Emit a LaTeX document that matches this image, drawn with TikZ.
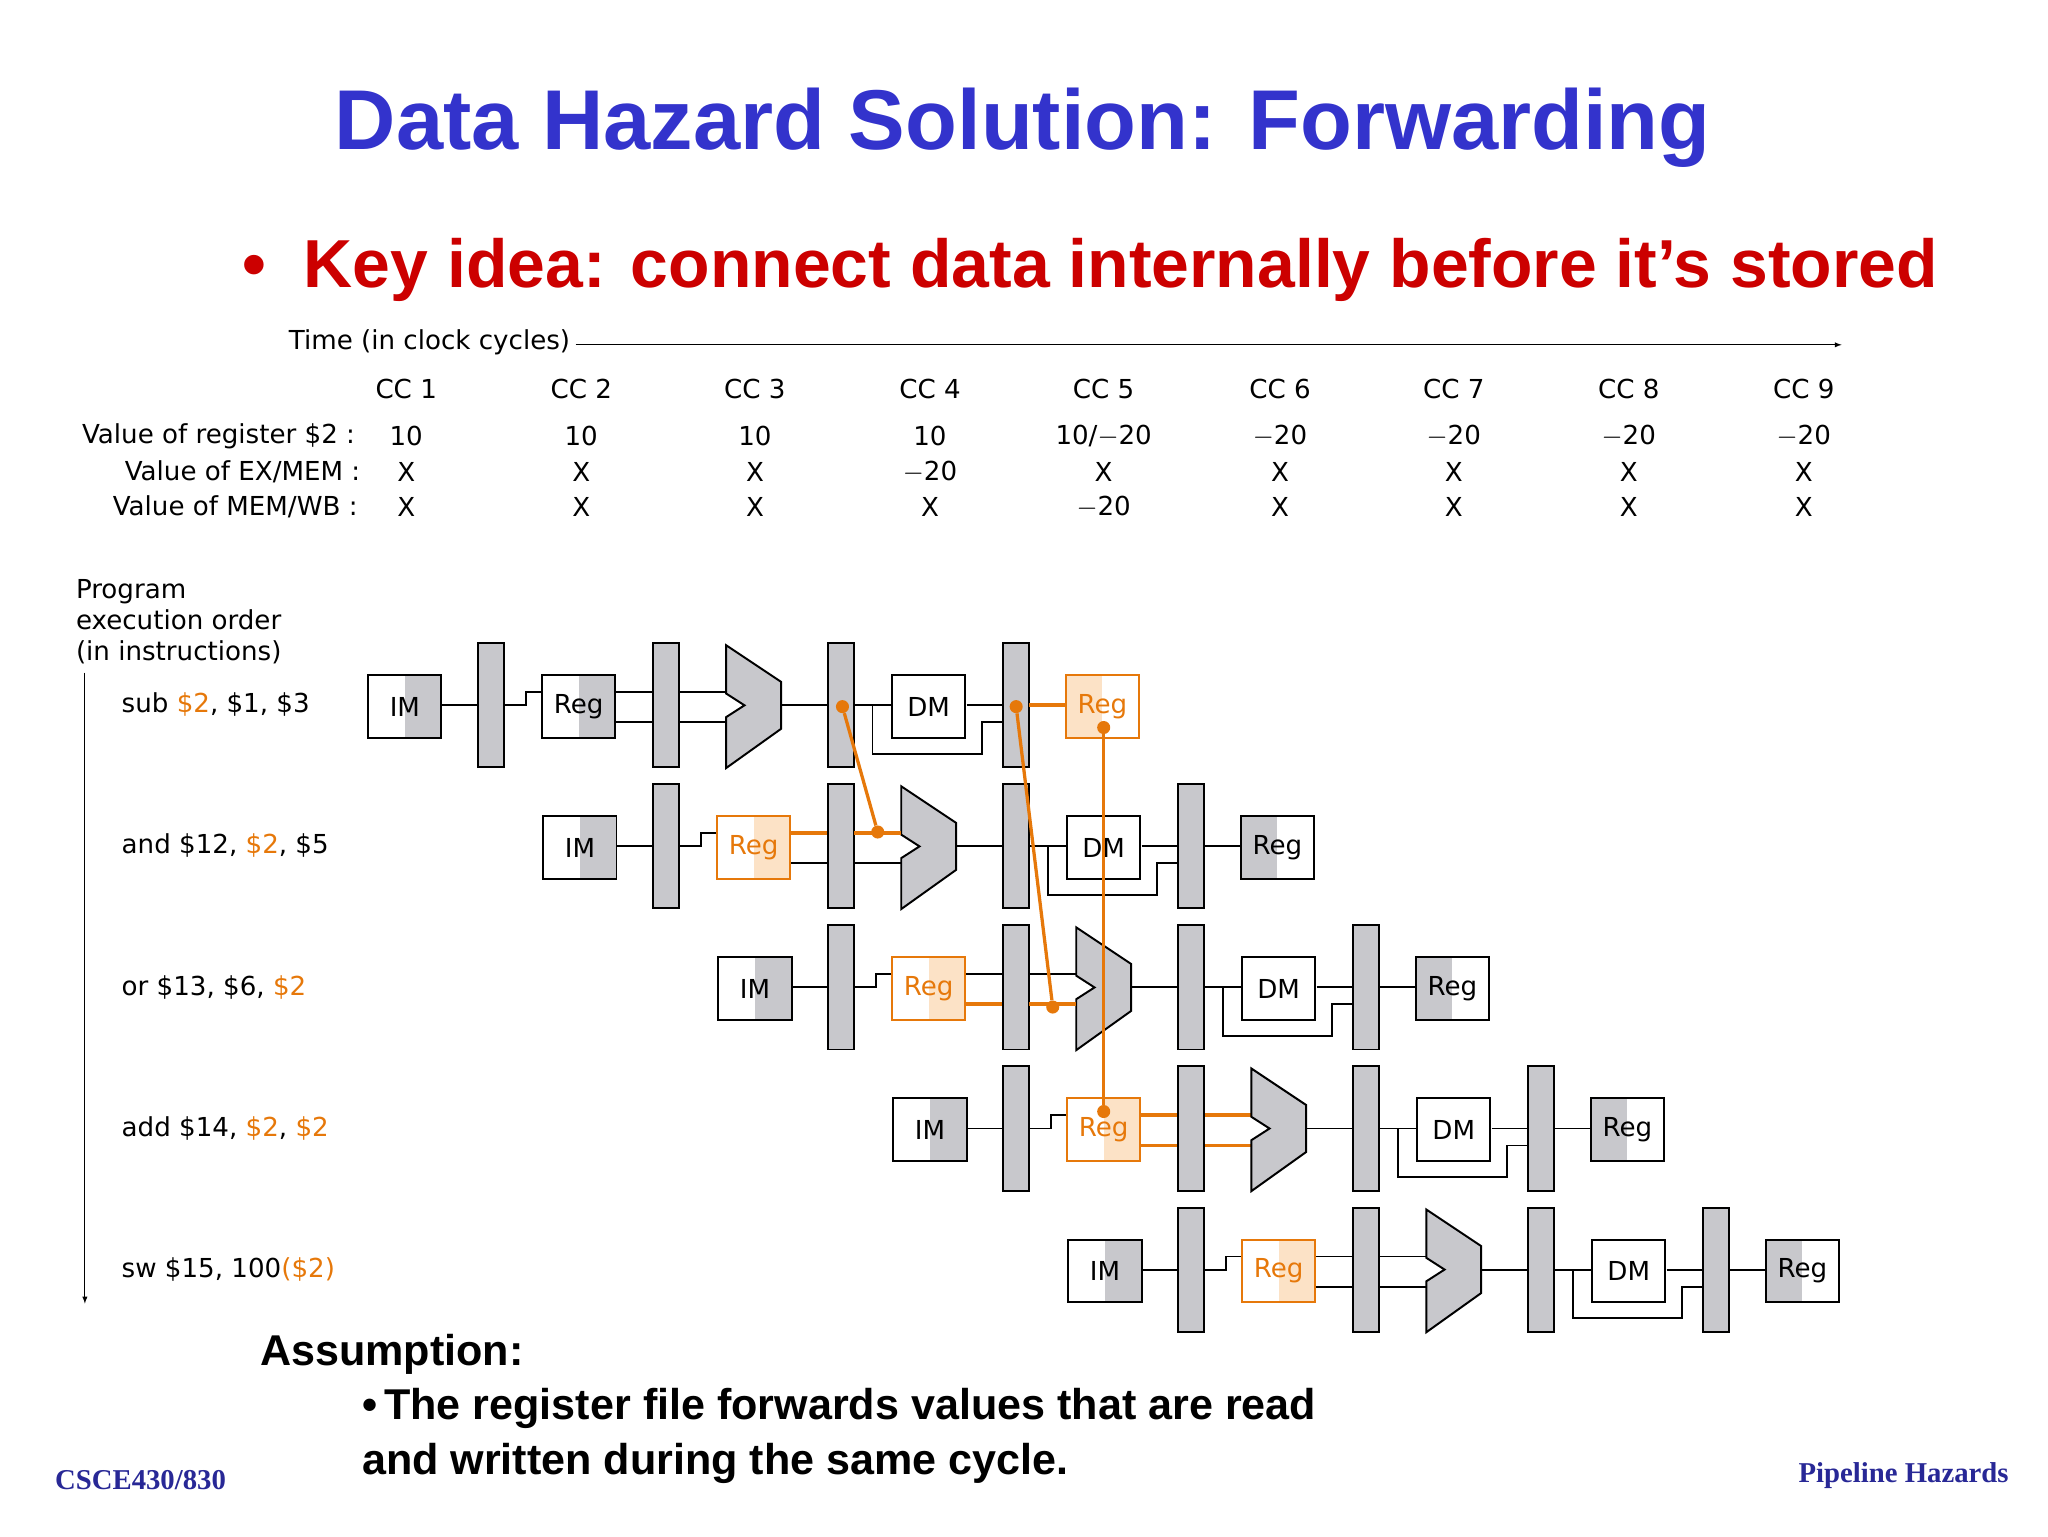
\documentclass[tikz,border=0pt]{standalone}
\usepackage{fontspec}
\setmainfont{Liberation Sans}
\newfontfamily\serifb{Liberation Serif}
\newfontfamily\djvfont{DejaVu Sans}
\definecolor{ttl}{RGB}{51,51,204}
\definecolor{kred}{RGB}{204,0,0}
\definecolor{g}{RGB}{200,200,204}
\definecolor{org}{RGB}{230,120,10}
\definecolor{lorg}{RGB}{252,226,198}
\definecolor{foot}{RGB}{40,40,150}
\begin{document}
\begin{tikzpicture}[x=1pt,y=-1pt,
  ln/.style={line width=1.5pt},
  ol/.style={org,line width=3pt},
  bx/.style={draw,line width=1.5pt,minimum width=56pt,minimum height=48pt,inner sep=0pt,font=\djvfont\fontsize{20}{20}\selectfont},
  rbox/.style={bx,path picture={\fill[g] (path picture bounding box.north) rectangle (path picture bounding box.south east);}},
  lbox/.style={bx,path picture={\fill[g] (path picture bounding box.north) rectangle (path picture bounding box.south west);}},
  orr/.style={bx,draw=org,text=org,path picture={\fill[lorg] (path picture bounding box.north) rectangle (path picture bounding box.south east);}},
  owb/.style={bx,draw=org,text=org,path picture={\fill[lorg] (path picture bounding box.north) rectangle (path picture bounding box.south west);}},
  bar/.style={draw,fill=g,line width=1.5pt,minimum width=20pt,minimum height=95pt,inner sep=0pt},
  dot/.style={circle,fill=org,inner sep=0pt,minimum size=10pt},
  txt/.style={font=\djvfont\fontsize{20}{20}\selectfont,inner sep=0pt}]
\useasboundingbox (0,0) rectangle (1568,1176);
% titles
\node[text=ttl,font=\fontsize{65}{65}\selectfont\bfseries] (title) at (783,98) {Data Hazard Solution: Forwarding};
\node[text=kred,font=\fontsize{52}{52}\selectfont\bfseries,anchor=west] (key) at (182,207) {\textbullet\ \ Key idea: connect data internally before it\char"0027 s stored};
% time axis
\node[txt,anchor=west] (time) at (221,262) {Time (in clock cycles)};
\coordinate (tend) at (1410,264);
\draw[line width=0.8pt,-latex] (time.east) ++(4,2) -- (tend);
\foreach \k/\a/\b/\c/\d in {1/10/X/X/311,2/10/X/X/445,3/10/X/X/578,4/10/{$-$20}/X/712,5/{10/$-$20}/X/{$-$20}/845,6/{$-$20}/X/X/980,7/{$-$20}/X/X/1113,8/{$-$20}/X/X/1247,9/{$-$20}/X/X/1381}{
  \node[txt] (cc\k) at (\d,298) {CC \k};
  \node[txt] (v\k) at (\d,334) {\a};
  \node[txt] (e\k) at (\d,361) {\b};
  \node[txt] (m\k) at (\d,388) {\c};
}
\node[txt,anchor=east] (l1) at (272,334) {Value of register \$2 :};
\node[txt,anchor=east] (l2) at (276,361) {Value of EX/MEM :};
\node[txt,anchor=east] (l3) at (274,388) {Value of MEM/WB :};
\node[txt,anchor=west,align=left] (peo) at (58,476) {Program\\[4pt]execution order\\[4pt](in instructions)};
\coordinate (pa) at (65,515); \coordinate (pb) at (65,998);
\draw[line width=0.8pt,-latex] (pa) -- (pb);
\node[txt,anchor=west] (i0) at (93,539) {sub \textcolor{org}{\$2}, \$1, \$3};
\node[txt,anchor=west] (i1) at (93,647) {and \$12, \textcolor{org}{\$2}, \$5};
\node[txt,anchor=west] (i2) at (93,756) {or \$13, \$6, \textcolor{org}{\$2}};
\node[txt,anchor=west] (i3) at (93,864) {add \$14, \textcolor{org}{\$2}, \textcolor{org}{\$2}};
\node[txt,anchor=west] (i4) at (93,972) {sw \$15, 100\textcolor{org}{(\$2)}};
% pipeline rows
\foreach \i/\rs/\ws/\tc/\bc in {0/rbox/owb/ln/ln,1/orr/lbox/ol/ln,2/orr/lbox/ln/ol,3/orr/lbox/ol/ol,4/orr/lbox/ln/ln}{
 \begin{scope}[shift={(134*\i,108*\i)}]
  \draw[ln] (338,540) -- (366,540);
  \draw[ln] (386,540) -- (403,540) -- (403,530) -- (415,530);
  \draw[\tc] (471,530) -- (556,530);
  \draw[\bc] (471,553) -- (556,553);
  \draw[ln] (598,540) -- (634,540);
  \draw[ln] (654,540) -- (682,540);
  \draw[ln] (668,540) -- (668,577) -- (752,577) -- (752,553) -- (768,553);
  \draw[ln] (740,540) -- (768,540);
  \draw[ln] (788,540) -- (816,540);
  \node[rbox] (im\i) at (310,541) {IM};
  \node[bar] (b1\i) at (376,540) {};
  \node[\rs] (rg\i) at (443,541) {Reg};
  \node[bar] (b2\i) at (510,540) {};
  \draw[ln,fill=g] (556,494) -- (598,522) -- (598,558) -- (556,588) -- (556,549) -- (570,540) -- (556,531) -- cycle;
  \node[bar] (b3\i) at (644,540) {};
  \node[bx] (dm\i) at (711,541) {DM};
  \node[bar] (b4\i) at (778,540) {};
  \node[\ws] (wb\i) at (844,541) {Reg};
 \end{scope}
}
% orange forwarding paths
\draw[ol] (788,540) -- (816,540);
\draw[ol] (654,638) -- (690,638);
\draw[ol] (788,769) -- (824,769);
\node[dot] (d1) at (645,541) {};
\node[dot] (d2) at (672,637) {};
\node[dot] (d3) at (778,541) {};
\node[dot] (d4) at (806,771) {};
\node[dot] (d5) at (845,557) {};
\node[dot] (d6) at (845,851) {};
\draw[org,line width=2.5pt] (d1) -- (d2);
\draw[org,line width=2.5pt] (d3) -- (d4);
\draw[org,line width=2.5pt] (d5) -- (d6);
% assumption
\node[anchor=west,font=\fontsize{33}{33}\selectfont\bfseries,inner sep=0pt] (as) at (199,1037) {Assumption:};
\node[anchor=north west,align=left,font=\fontsize{33}{42}\selectfont\bfseries,inner sep=0pt] (as2) at (277,1063) {\textbullet\,The register file forwards values that are read\\and written during the same cycle.};
\node[anchor=west,text=foot,font=\serifb\fontsize{22}{22}\selectfont\bfseries,inner sep=0pt] (f1) at (42,1133) {CSCE430/830};
\node[anchor=east,text=foot,font=\serifb\fontsize{22}{22}\selectfont\bfseries,inner sep=0pt] (f2) at (1538,1130) {Pipeline Hazards};
\end{tikzpicture}
\end{document}
